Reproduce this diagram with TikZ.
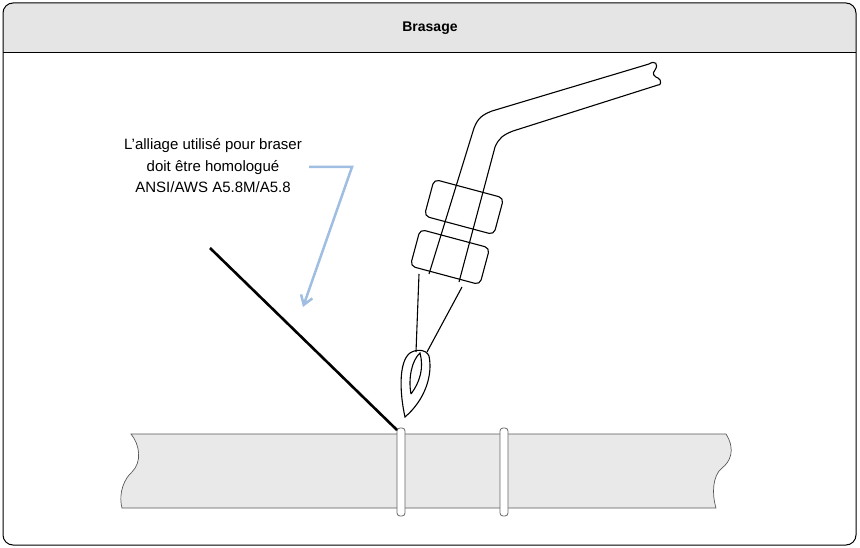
\documentclass[tikz,border=0pt]{standalone}
\usepackage{fontspec}
\setmainfont{Liberation Sans}
\usetikzlibrary{arrows.meta}
\begin{document}
\begin{tikzpicture}[x=1pt,y=-1pt,
  torch/.style={line width=1.1pt,black},
  ring/.style={draw=gray!80!black,fill=white,line width=0.8pt,rounded corners=3pt}]
\useasboundingbox (0,0) rectangle (860,548);
% frame
\begin{scope}
\clip[rounded corners=10pt] (3,3) rectangle (856,545);
\fill[gray!20] (3,3) rectangle (856,53);
\end{scope}
\draw[line width=1pt] (3,53) -- (856,53);
\draw[line width=1pt,rounded corners=10pt] (3,3) rectangle (856,545);
\node[font=\bfseries\fontsize{14}{16}\selectfont] (title) at (430,28) {Brasage};
% pipe
\draw[gray!70!black,fill=gray!17,line width=0.7pt] (131,434) -- (726,434)
  .. controls (736,450) and (730,462) .. (722,468) .. controls (712,476) and (712,495) .. (716,508)
  -- (122,508) .. controls (118,492) and (125,478) .. (132,472) .. controls (142,462) and (140,445) .. (131,434) -- cycle;
\draw[ring] (397,428) rectangle (405,516);
\draw[ring] (500,428) rectangle (508,516);
% rod
\draw[line width=2.6pt] (210,248) -- (397,430);
% torch tube
\draw[torch] (429,274) -- (474,128) .. controls (478,118) and (482,115) .. (492,111) -- (649,64);
\draw[torch] (459,282) -- (495,147) .. controls (499,138) and (503,135) .. (513,131) -- (658,85);
\draw[torch] (649,64) .. controls (655,60) and (659,64) .. (655,70) .. controls (651,74) and (655,77) .. (658,78) .. controls (662,80) and (661,86) .. (658,85);
% nuts
\begin{scope}[shift={(464,207)},rotate=-15]
\draw[torch] (-36,-19) [rounded corners=5pt] rectangle (36,19);
\end{scope}
\begin{scope}[shift={(450,257)},rotate=-15]
\draw[torch] (-36,-19) [rounded corners=5pt] rectangle (36,19);
\end{scope}
% cone
\draw[torch] (419,274) -- (416,352);
\draw[torch] (462,287) -- (427,352);
% flame
\draw[torch] (405,417) .. controls (400,395) and (398,362) .. (410,353) .. controls (416,349) and (426,349) .. (429,356) .. controls (433,375) and (425,400) .. (405,417) -- cycle;
\draw[torch] (411,394) .. controls (408,378) and (412,360) .. (420,353) .. controls (424,368) and (420,382) .. (411,394);
% label
\node[align=center,font=\fontsize{15}{21.5}\selectfont,inner sep=0] (lab) at (213,166)
 {L’alliage utilisé pour braser\\doit être homologué\\ANSI/AWS A5.8M/A5.8};
\coordinate (bend) at (352,167);
\coordinate (tip) at (303,307);
\draw[color={rgb,255:red,160;green,190;blue,225},line width=2.5pt,-{Straight Barb[length=9pt,width=12pt]}] (309,167) -- (bend) -- (tip);
\end{tikzpicture}
\end{document}
